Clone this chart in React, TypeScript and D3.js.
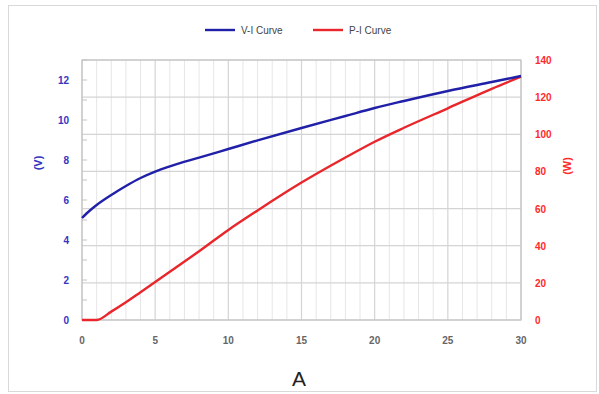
import { useRef, useEffect } from "react";
import * as d3 from "d3";

// current (A)
const currentA = [0, 0.5, 1, 2, 3, 4, 5, 6, 8, 10, 12, 15, 18, 20, 22, 25, 28, 30];
// voltage (V) for V-I curve
const voltageV = [5.1, 5.45, 5.75, 6.25, 6.7, 7.1, 7.42, 7.68, 8.12, 8.55, 8.98, 9.6, 10.2, 10.6, 10.95, 11.45, 11.9, 12.2];
// power (W) for P-I curve
const powerW = [0, 0, 0, 4.5, 9.5, 15, 20.5, 26, 37, 48.5, 59, 74, 87.5, 96, 103.5, 114, 124.5, 131];

const xTicks = [0, 5, 10, 15, 20, 25, 30];
const vTicks = [0, 2, 4, 6, 8, 10, 12];
const wTicks = [0, 20, 40, 60, 80, 100, 120, 140];

const seriesNames = ["V-I Curve", "P-I Curve"];
const BLUE = "#2020a8";
const RED = "#e8262b";

function App() {
  const svgRef = useRef<SVGSVGElement | null>(null);

  useEffect(() => {
    if (!svgRef.current) return;
    const svg = d3.select(svgRef.current);
    svg.selectAll("*").remove();

    const width = 599;
    const height = 394;
    const left = 82, right = 521, top = 60, bottom = 320;
    const font = "'Liberation Sans', Arial, sans-serif";

    // outer frame
    svg.append("rect")
      .attr("x", 8.5).attr("y", 5.5).attr("width", 588).attr("height", 386)
      .attr("fill", "#fff").attr("stroke", "#d9d9d9");

    const x = d3.scaleLinear().domain([0, 30]).range([left, right]);
    const yV = d3.scaleLinear().domain([0, 13]).range([bottom, top]);
    const yW = d3.scaleLinear().domain([0, 140]).range([bottom, top]);

    // minor vertical grid
    svg.append("g").selectAll("line")
      .data(d3.range(0, 31, 1).filter((d) => d % 5 !== 0))
      .join("line")
      .attr("x1", (d) => x(d)).attr("x2", (d) => x(d))
      .attr("y1", top).attr("y2", bottom)
      .attr("stroke", "#e6e6e6").attr("stroke-width", 1);

    // major grid
    svg.append("g").selectAll("line")
      .data(xTicks)
      .join("line")
      .attr("x1", (d) => x(d)).attr("x2", (d) => x(d))
      .attr("y1", top).attr("y2", bottom)
      .attr("stroke", "#d4d4d4").attr("stroke-width", 1.2);

    svg.append("g").selectAll("line")
      .data(wTicks)
      .join("line")
      .attr("x1", left).attr("x2", right)
      .attr("y1", (d) => yW(d)).attr("y2", (d) => yW(d))
      .attr("stroke", "#d4d4d4").attr("stroke-width", 1.2);

    // plot border
    svg.append("rect")
      .attr("x", left).attr("y", top).attr("width", right - left).attr("height", bottom - top)
      .attr("fill", "none").attr("stroke", "#c4c4c4").attr("stroke-width", 1.2);

    // left axis inner ticks
    svg.append("g").selectAll("line")
      .data(d3.range(0, 14, 1))
      .join("line")
      .attr("x1", left).attr("x2", left + 5)
      .attr("y1", (d) => yV(d)).attr("y2", (d) => yV(d))
      .attr("stroke", "#c4c4c4");

    // tick labels
    svg.append("g").selectAll("text")
      .data(vTicks)
      .join("text")
      .attr("x", 69).attr("y", (d) => yV(d) + 4)
      .attr("text-anchor", "end")
      .style("font-family", font).style("font-size", "10px").style("font-weight", "bold")
      .attr("fill", "#3535c0")
      .text((d) => d);

    svg.append("g").selectAll("text")
      .data(wTicks)
      .join("text")
      .attr("x", 535).attr("y", (d) => yW(d) + 4)
      .attr("text-anchor", "start")
      .style("font-family", font).style("font-size", "10px").style("font-weight", "bold")
      .attr("fill", "#ff2a2a")
      .text((d) => d);

    svg.append("g").selectAll("text")
      .data(xTicks)
      .join("text")
      .attr("x", (d) => x(d)).attr("y", 344)
      .attr("text-anchor", "middle")
      .style("font-family", font).style("font-size", "10px").style("font-weight", "bold")
      .attr("fill", "#666")
      .text((d) => d);

    // axis titles
    svg.append("text")
      .attr("transform", "translate(42,163) rotate(-90)")
      .attr("text-anchor", "middle")
      .style("font-family", font).style("font-size", "11px").style("font-weight", "bold")
      .attr("fill", "#3535c0")
      .text("(V)");

    svg.append("text")
      .attr("transform", "translate(571,166) rotate(-90)")
      .attr("text-anchor", "middle")
      .style("font-family", font).style("font-size", "11px").style("font-weight", "bold")
      .attr("fill", "#ff2a2a")
      .text("(W)");

    svg.append("text")
      .attr("x", 299).attr("y", 386)
      .attr("text-anchor", "middle")
      .style("font-family", font).style("font-size", "21px")
      .attr("fill", "#222")
      .text("A");

    // curves
    const vLine = d3.line<number>()
      .x((_, i) => x(currentA[i]))
      .y((d) => yV(d))
      .curve(d3.curveMonotoneX);
    const wLine = d3.line<number>()
      .x((_, i) => x(currentA[i]))
      .y((d) => yW(d))
      .curve(d3.curveMonotoneX);

    svg.append("path").datum(powerW)
      .attr("d", wLine).attr("fill", "none")
      .attr("stroke", RED).attr("stroke-width", 2.4);
    svg.append("path").datum(voltageV)
      .attr("d", vLine).attr("fill", "none")
      .attr("stroke", BLUE).attr("stroke-width", 2.4);

    // legend
    const legend = [
      { color: BLUE, label: seriesNames[0], x: 205 },
      { color: RED, label: seriesNames[1], x: 313 },
    ];
    legend.forEach(({ color, label, x: lx }) => {
      svg.append("line")
        .attr("x1", lx).attr("x2", lx + 30).attr("y1", 30).attr("y2", 30)
        .attr("stroke", color).attr("stroke-width", 2.4);
      svg.append("text")
        .attr("x", lx + 36).attr("y", 34)
        .style("font-family", font).style("font-size", "10px")
        .attr("fill", "#444")
        .text(label);
    });

    svg.attr("viewBox", `0 0 ${width} ${height}`);
  }, []);

  return (
    <svg
      ref={svgRef}
      width={599}
      height={394}
      style={{ position: "absolute", left: 0, top: 0, background: "#fff" }}
    />
  );
}

export default App;
